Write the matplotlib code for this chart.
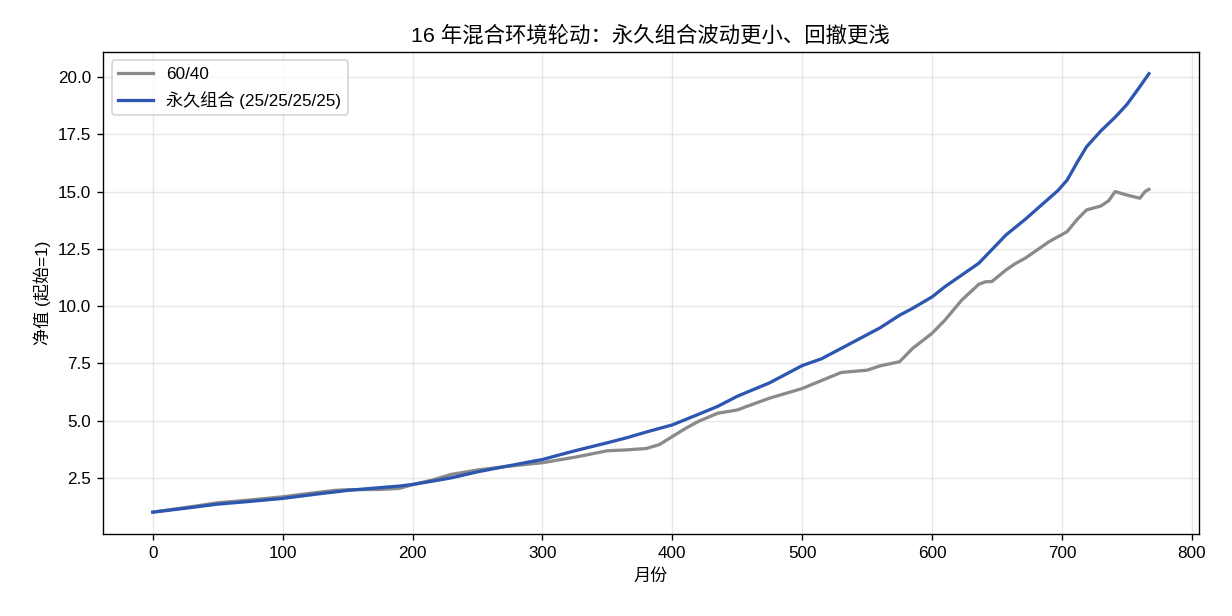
import numpy as np
import matplotlib
matplotlib.use('Agg')
import matplotlib.pyplot as plt

plt.rcParams['font.family'] = ['Liberation Sans', 'Noto Sans CJK SC', 'DejaVu Sans']
plt.rcParams['axes.unicode_minus'] = False

# values (month -> net value)
months_6040 = [0, 25, 50, 75, 100, 125, 140, 150, 175, 190, 200, 215, 230, 250, 270,
               300, 325, 350, 365, 380, 390, 400, 410, 420, 435, 450, 457, 475, 500, 515,
               530, 550, 560, 575, 585, 600, 610, 623, 636, 641, 646, 657, 664, 672, 690, 704,
               712, 719, 730, 736, 741, 750, 760, 764, 767]
nav_6040 = [1.0, 1.2, 1.41, 1.53, 1.67, 1.85, 1.95, 1.98, 1.99, 2.04, 2.2, 2.4, 2.65, 2.84, 2.98,
            3.16, 3.4, 3.68, 3.72, 3.78, 3.95, 4.3, 4.65, 4.96, 5.32, 5.46, 5.61, 5.98, 6.4, 6.75,
            7.1, 7.2, 7.39, 7.57, 8.15, 8.81, 9.39, 10.27, 10.95, 11.06, 11.07, 11.58, 11.85, 12.1, 12.81, 13.25,
            13.8, 14.2, 14.37, 14.6, 15.0, 14.85, 14.71, 15.0, 15.1]

months_perm = [0, 25, 50, 75, 100, 125, 150, 175, 190, 200, 215, 230, 250, 270, 300,
               325, 350, 365, 380, 400, 420, 435, 450, 475, 500, 515, 530, 550, 560,
               575, 585, 600, 610, 623, 636, 646, 657, 672, 690, 697, 704, 712, 719, 730, 741,
               750, 760, 767]
nav_perm = [1.0, 1.17, 1.35, 1.47, 1.6, 1.78, 1.95, 2.07, 2.14, 2.21, 2.35, 2.5, 2.76, 2.98, 3.3,
            3.68, 4.03, 4.25, 4.5, 4.81, 5.27, 5.62, 6.06, 6.65, 7.4, 7.7, 8.15, 8.75, 9.05,
            9.6, 9.9, 10.4, 10.85, 11.36, 11.87, 12.46, 13.11, 13.8, 14.7, 15.05, 15.5, 16.3, 16.96, 17.65, 18.25,
            18.8, 19.58, 20.15]

fig = plt.figure(figsize=(10, 5), dpi=123.2)
ax = fig.add_axes([0.0836, 0.133, 0.8894, 0.783])

ax.plot(months_6040, nav_6040, color='#8a8a8a', lw=1.9, label='60/40')
ax.plot(months_perm, nav_perm, color='#2c56b0', lw=1.9, label='永久组合 (25/25/25/25)')

ax.set_title('16 年混合环境轮动：永久组合波动更小、回撤更浅', fontsize=12.5)
ax.set_xlabel('月份')
ax.set_ylabel('净值 (起始=1)')
ax.grid(True, alpha=0.3)
ax.legend(loc='upper left')

fig.savefig('out.png', dpi=123.2)
